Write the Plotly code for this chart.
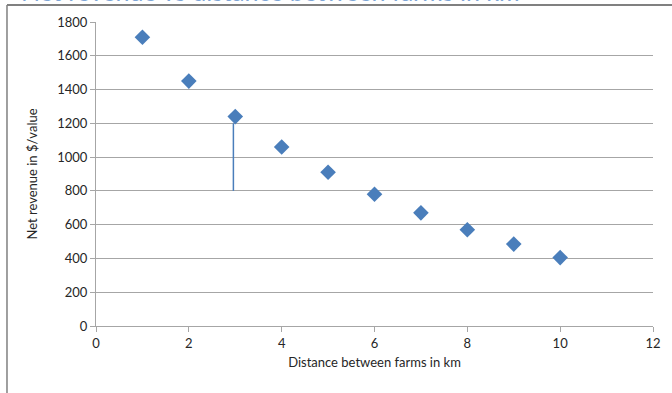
import plotly.graph_objects as go

# Net revenue against distance between farms
distance_km = [1, 2, 3, 4, 5, 6, 7, 8, 9, 10]
net_revenue = [1710, 1450, 1240, 1060, 910, 780, 670, 570, 485, 405]

# Vertical marker line below the third point
drop_x = 2.96
drop_from = 800
drop_to = 1200

FONT = "Lato, Open Sans, sans-serif"
GRID = "#a6a6a6"

fig = go.Figure()
fig.add_trace(go.Scatter(
    x=distance_km, y=net_revenue, mode="markers",
    marker=dict(symbol="diamond", size=12, color="#4a7ebb"),
    showlegend=False, cliponaxis=False,
))

fig.add_shape(type="line", xref="x", yref="y",
              x0=drop_x, x1=drop_x, y0=drop_from, y1=drop_to,
              line=dict(color="#4a7ebb", width=1.5))

# Chart-area frame (top and left edges)
fig.add_shape(type="line", xref="paper", yref="paper",
              x0=-0.1598, x1=1.05, y0=1.0559, y1=1.0559,
              line=dict(color="#808080", width=2))
fig.add_shape(type="line", xref="paper", yref="paper",
              x0=-0.1598, x1=-0.1598, y0=1.0559, y1=-0.25,
              line=dict(color="#808080", width=1.5))

fig.add_annotation(
    text="Net revenue vs distance between farms in km",
    xref="paper", yref="paper", x=-0.138, y=1, xanchor="left", yanchor="bottom",
    yshift=14, showarrow=False,
    font=dict(family=FONT, size=25, color="#7fa6d6"),
)

fig.update_layout(
    width=672, height=393,
    margin=dict(l=96, r=19, t=22, b=67),
    paper_bgcolor="white", plot_bgcolor="white",
    font=dict(family=FONT, size=13, color="#404040"),
    xaxis=dict(
        range=[0, 12], tickmode="linear", tick0=0, dtick=2,
        showgrid=False, zeroline=False,
        showline=True, linecolor=GRID, linewidth=1,
        ticks="outside", ticklen=5, tickcolor=GRID,
        title=dict(text="Distance between farms in km", standoff=8,
                   font=dict(size=13, color="#262626")),
        tickfont=dict(size=13, color="#262626"),
    ),
    yaxis=dict(
        range=[0, 1800], tickmode="linear", tick0=0, dtick=200,
        showgrid=True, gridcolor=GRID, gridwidth=1, zeroline=False,
        showline=True, linecolor=GRID, linewidth=1,
        ticks="outside", ticklen=5, tickcolor=GRID,
        title=dict(text="Net revenue in $/value", standoff=16,
                   font=dict(size=13, color="#262626")),
        tickfont=dict(size=13, color="#262626"),
    ),
)

fig.write_html("out.html")
